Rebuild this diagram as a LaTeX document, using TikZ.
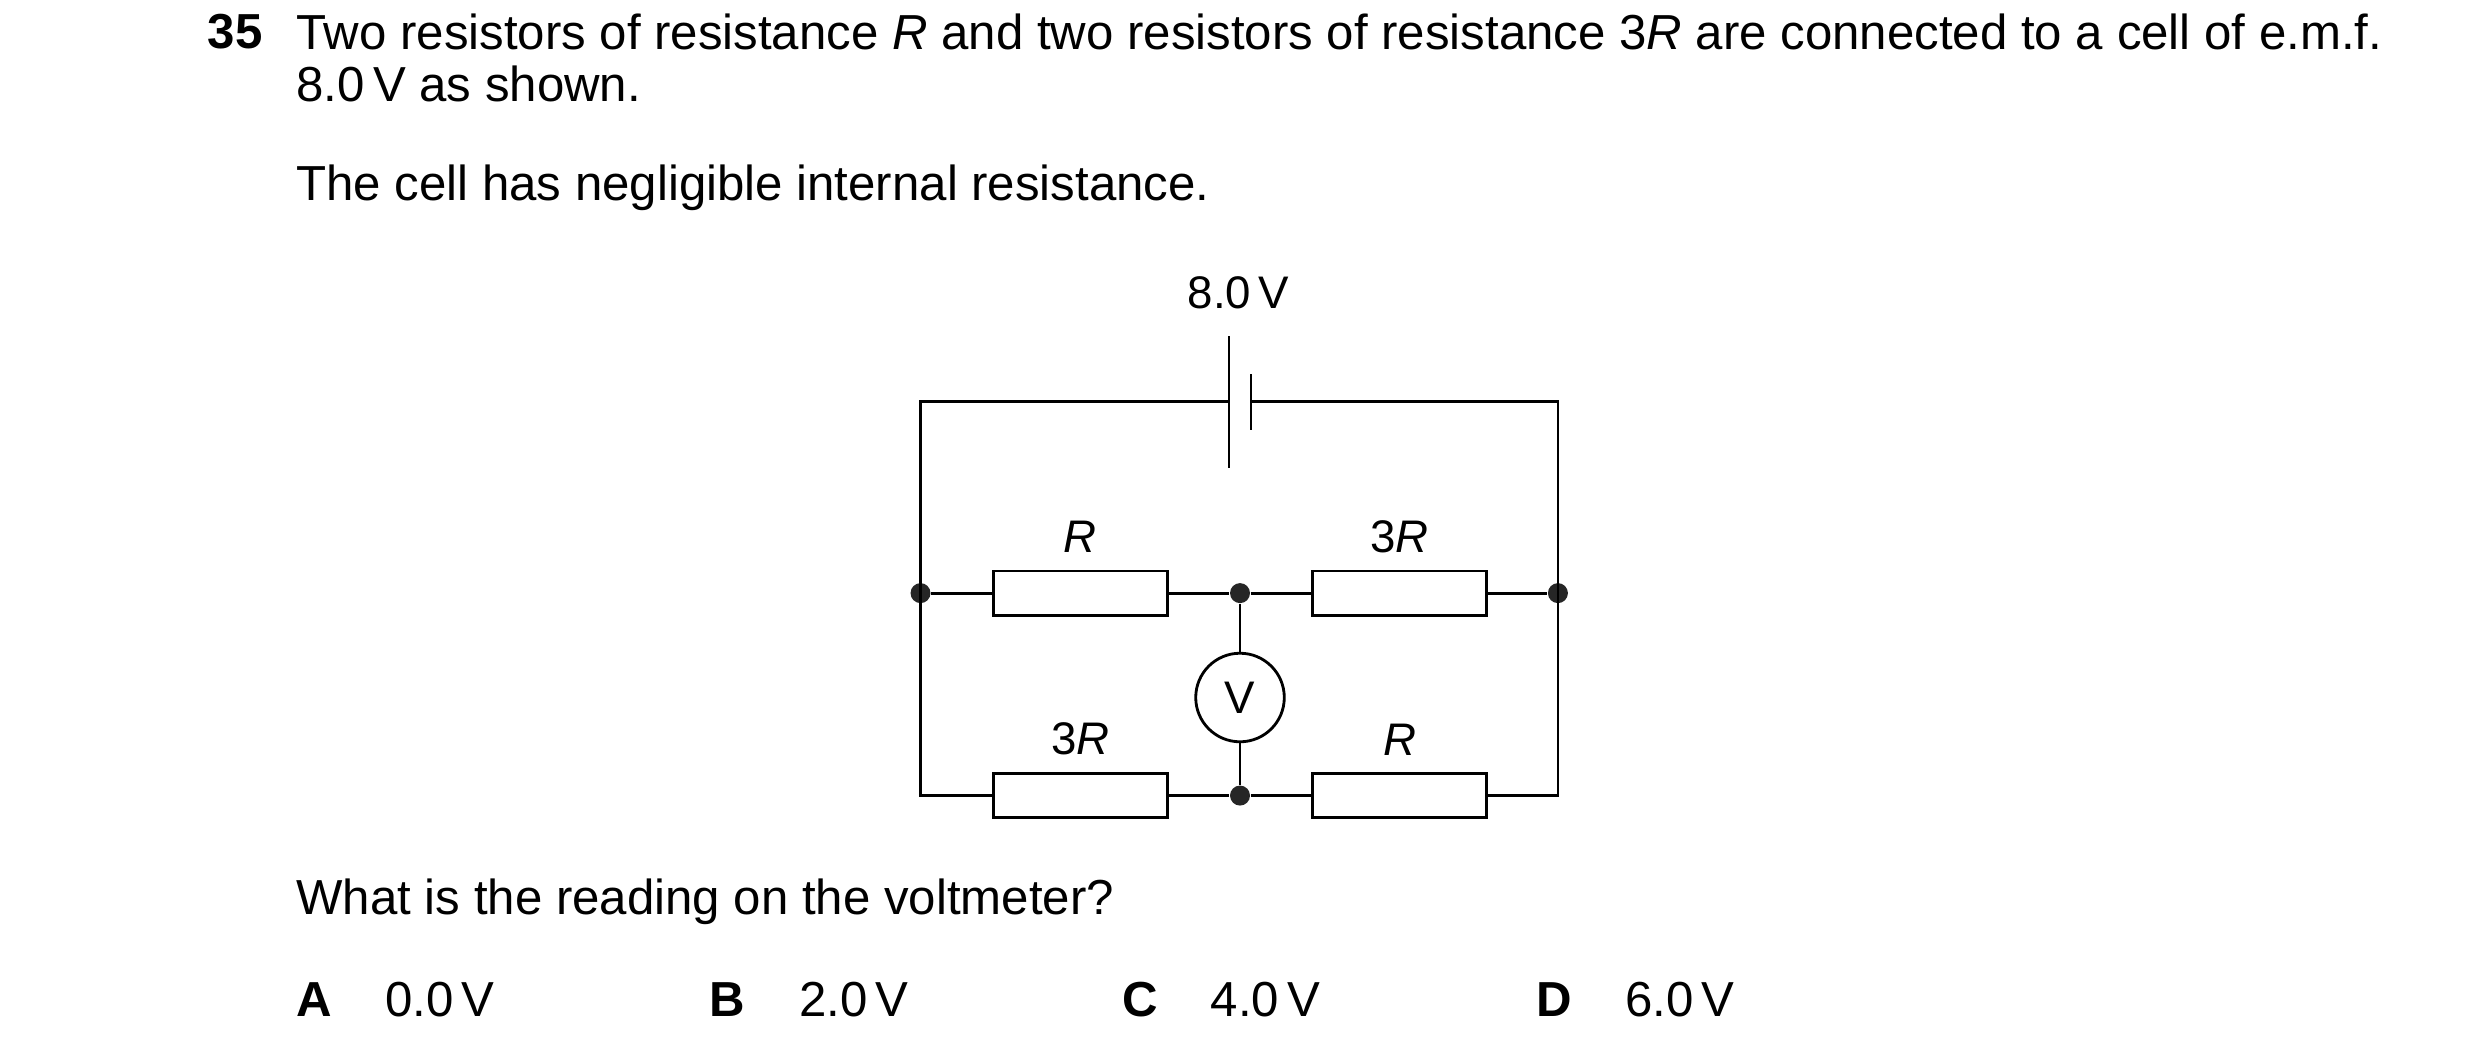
\documentclass[tikz,border=0pt]{standalone}
\usepackage{fontspec}
\setmainfont{Liberation Sans}
\usetikzlibrary{positioning}
\tikzset{
  res/.style={draw, thick, rectangle, minimum width=1.74cm, minimum height=0.443cm, inner sep=0pt},
  meter/.style={draw, thick, circle, minimum size=0.886cm, inner sep=0pt, font=\fontsize{13}{15}\selectfont},
  junc/.style={circle, fill=black!85, minimum size=0.2cm, inner sep=0pt},
  txt/.style={anchor=west, inner sep=0pt, font=\fontsize{14}{17}\selectfont},
  lab/.style={inner sep=0pt, font=\fontsize{13}{15}\selectfont},
  wire/.style={thick}
}
\begin{document}
\begin{tikzpicture}[x=0.01582cm, y=-0.01582cm]
\useasboundingbox (0,0) rectangle (1568,667);

% Question text
\node[txt, font=\fontsize{14}{17}\selectfont\bfseries] (num) at (131,20) {35};
\node[txt] (q1) at (187,20) {Two resistors of resistance \textit{R} and two resistors of resistance 3\textit{R} are connected to a cell of e.m.f.};
\node[txt] (q2) at (187,53) {8.0\,V as shown.};
\node[txt] (q3) at (187,119) {The cell has negligible internal resistance.};

% Corners
\coordinate (tl) at (582,254);
\coordinate (tr) at (985,254);
\coordinate (bl) at (582,503);
\coordinate (br) at (985,503);

% Cell
\coordinate (cl) at (777,254);
\coordinate (cr) at (791,254);
\node[lab] (emf) at (783,185) {8.0\,V};

% Junctions
\node[junc] (jl) at (582,375) {};
\node[junc] (jm) at (784,375) {};
\node[junc] (jr) at (985,375) {};
\node[junc] (jb) at (784,503) {};

% Resistors
\node[res] (r1) at (683,375) {};
\node[res] (r2) at (885,375) {};
\node[res] (r3) at (683,503) {};
\node[res] (r4) at (885,503) {};
\node[lab, above=0.16cm of r1] {\textit{R}};
\node[lab, above=0.16cm of r2] {3\textit{R}};
\node[lab, above=0.16cm of r3] {3\textit{R}};
\node[lab, above=0.16cm of r4] {\textit{R}};

% Voltmeter
\node[meter] (vm) at (784,441) {V};

% Wires
\draw[wire] (cl) -- (tl) -- (bl) -- (r3.west);
\draw[wire] (cr) -- (tr) -- (br) -- (r4.east);
\draw[wire] ([yshift=-0.66cm]cl) -- ([yshift=0.66cm]cl);
\draw[wire] ([yshift=-0.28cm]cr) -- ([yshift=0.28cm]cr);
\draw[wire] (jl) -- (r1.west);
\draw[wire] (r1.east) -- (jm) -- (r2.west);
\draw[wire] (r2.east) -- (jr);
\draw[wire] (r3.east) -- (jb) -- (r4.west);
\draw[wire] (jm) -- (vm);
\draw[wire] (vm) -- (jb);

% Answer
\node[txt] (q4) at (187,570) {What is the reading on the voltmeter?};
\node[txt, font=\fontsize{14}{17}\selectfont\bfseries] (oa) at (187,632) {A};
\node[txt] (va) at (243,632) {0.0\,V};
\node[txt, font=\fontsize{14}{17}\selectfont\bfseries] (ob) at (448,632) {B};
\node[txt] (vb) at (505,632) {2.0\,V};
\node[txt, font=\fontsize{14}{17}\selectfont\bfseries] (oc) at (709,632) {C};
\node[txt] (vc) at (765,632) {4.0\,V};
\node[txt, font=\fontsize{14}{17}\selectfont\bfseries] (od) at (971,632) {D};
\node[txt] (vd) at (1027,632) {6.0\,V};
\end{tikzpicture}
\end{document}
